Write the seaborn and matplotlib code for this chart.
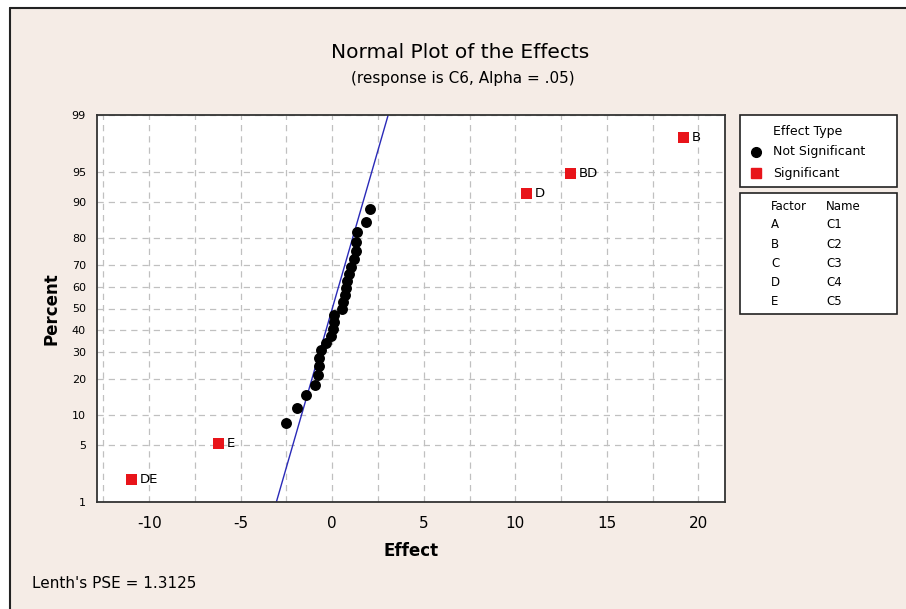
import matplotlib
matplotlib.use("Agg")
import matplotlib.pyplot as plt
import seaborn as sns
import pandas as pd
from matplotlib.patches import Rectangle
from matplotlib.lines import Line2D
from matplotlib.ticker import MultipleLocator
from statistics import NormalDist

# Effects
ns_effect = [-2.51, -1.91, -1.45, -0.95, -0.77, -0.73, -0.72, -0.63, -0.36, -0.09,
             0.04, 0.07, 0.09, 0.55, 0.58, 0.69, 0.73, 0.82, 0.91, 1.01,
             1.19, 1.28, 1.31, 1.37, 1.86, 2.04]
ns_percent = [8.4, 11.6, 14.8, 18.0, 21.2, 24.4, 27.6, 30.8, 34.0, 37.2,
              40.4, 43.6, 46.8, 50.0, 53.2, 56.4, 59.6, 62.8, 66.0, 69.2,
              72.4, 75.6, 78.8, 82.0, 85.2, 88.4]
sig_names = ["DE", "E", "D", "BD", "B"]
sig_effect = [-10.96, -6.23, 10.6, 13.0, 19.2]
sig_percent = [2.0, 5.2, 91.6, 94.8, 98.0]
pse = 1.3125
y_ticks = [1, 5, 10, 20, 30, 40, 50, 60, 70, 80, 90, 95, 99]
x_ticks = [-10, -5, 0, 5, 10, 15, 20]
factors = ["A", "B", "C", "D", "E"]
factor_names = ["C1", "C2", "C3", "C4", "C5"]

nd = NormalDist()
def z(p):
    return nd.inv_cdf(p / 100.0)

df_ns = pd.DataFrame({"effect": ns_effect, "z": [z(p) for p in ns_percent]})
df_sig = pd.DataFrame({"effect": sig_effect, "z": [z(p) for p in sig_percent], "name": sig_names})

sns.set_style("white")
plt.rcParams["font.family"] = ["DejaVu Sans"]
plt.rcParams["text.color"] = "black"
plt.rcParams["axes.labelcolor"] = "black"
plt.rcParams["xtick.color"] = "black"
plt.rcParams["ytick.color"] = "black"

bg = "#f5ece6"
W, H = 906, 609
fig = plt.figure(figsize=(9.06, 6.09), dpi=100, facecolor="white")

# panel background with left/top border
fig.add_artist(Rectangle((10 / W, 0), 1 - 10 / W, 1 - 8 / H, transform=fig.transFigure,
                         facecolor=bg, edgecolor="none", zorder=-10))
fig.add_artist(Line2D([10 / W, 10 / W], [0, 1 - 8 / H], transform=fig.transFigure, color="#222222", lw=1.5))
fig.add_artist(Line2D([10 / W, 1], [1 - 8 / H, 1 - 8 / H], transform=fig.transFigure, color="#222222", lw=1.5))

ax = fig.add_axes([97 / W, 1 - 502 / H, (725 - 97) / W, (502 - 115) / H])
ax.set_facecolor("white")

# reference line through 0 with slope = PSE
zlo, zhi = z(1), z(99)
ax.plot([pse * zlo, pse * zhi], [zlo, zhi], color="#2a2ab8", lw=1, zorder=2)

sns.scatterplot(data=df_ns, x="effect", y="z", ax=ax, color="black", marker="o",
                s=62, edgecolor="black", linewidth=0, zorder=3)
sns.scatterplot(data=df_sig, x="effect", y="z", ax=ax, color="#e8141a", marker="s",
                s=60, edgecolor="none", linewidth=0, zorder=3)
for _, r in df_sig.iterrows():
    ax.annotate(r["name"], (r["effect"], r["z"]), xytext=(6, 0), textcoords="offset points",
                va="center", ha="left", fontsize=9.5, color="black")

ax.set_xlim(-12.85, 21.45)
ax.set_ylim(zlo, zhi)
ax.set_xticks(x_ticks)
ax.set_xticklabels([str(t) for t in x_ticks], fontsize=11)
ax.xaxis.set_minor_locator(MultipleLocator(2.5))
ax.set_yticks([z(p) for p in y_ticks])
ax.set_yticklabels([str(p) for p in y_ticks], fontsize=8)
ax.tick_params(axis="both", which="major", direction="out", length=5, width=1, color="#333333", pad=3)
ax.tick_params(axis="x", which="major", pad=5)
ax.tick_params(axis="x", which="minor", length=0)
ax.grid(True, which="both", axis="x", color="#c0c0c0", linestyle=(0, (5, 4)), lw=0.9)
ax.grid(True, which="major", axis="y", color="#c0c0c0", linestyle=(0, (5, 4)), lw=0.9)
ax.set_axisbelow(True)
for s in ax.spines.values():
    s.set_color("#333333")
    s.set_linewidth(1.3)

ax.set_xlabel("Effect", fontsize=12, fontweight="bold", labelpad=8)
ax.set_ylabel("Percent", fontsize=12, fontweight="bold", labelpad=8)

fig.text(460 / W, 1 - 52 / H, "Normal Plot of the Effects", ha="center", va="center", fontsize=14.5)
fig.text(463 / W, 1 - 78 / H, "(response is C6, Alpha = .05)", ha="center", va="center", fontsize=11)
fig.text(32 / W, 1 - 584 / H, "Lenth's PSE = 1.3125", ha="left", va="center", fontsize=11)

# legend boxes
fig.add_artist(Rectangle((740 / W, 1 - 187 / H), 157 / W, 72 / H, transform=fig.transFigure,
                         facecolor="white", edgecolor="#222222", lw=1.2))
fig.add_artist(Rectangle((740 / W, 1 - 314 / H), 157 / W, 121 / H, transform=fig.transFigure,
                         facecolor="white", edgecolor="#222222", lw=1.2))
fig.text(773 / W, 1 - 131 / H, "Effect Type", ha="left", va="center", fontsize=9)
fig.add_artist(Line2D([756 / W], [1 - 152 / H], transform=fig.transFigure, marker="o",
                      color="black", markersize=7, linestyle="none"))
fig.text(773 / W, 1 - 152 / H, "Not Significant", ha="left", va="center", fontsize=9)
fig.add_artist(Line2D([756 / W], [1 - 173 / H], transform=fig.transFigure, marker="s",
                      color="#e8141a", markersize=7, linestyle="none"))
fig.text(773 / W, 1 - 173 / H, "Significant", ha="left", va="center", fontsize=9)

fig.text(771 / W, 1 - 206 / H, "Factor", ha="left", va="center", fontsize=8.5)
fig.text(826 / W, 1 - 206 / H, "Name", ha="left", va="center", fontsize=8.5)
for i, (f, n) in enumerate(zip(factors, factor_names)):
    yy = 1 - (225 + i * 19.2) / H
    fig.text(771 / W, yy, f, ha="left", va="center", fontsize=8.5)
    fig.text(826 / W, yy, n, ha="left", va="center", fontsize=8.5)

fig.savefig("out.png", dpi=100, facecolor=fig.get_facecolor())
